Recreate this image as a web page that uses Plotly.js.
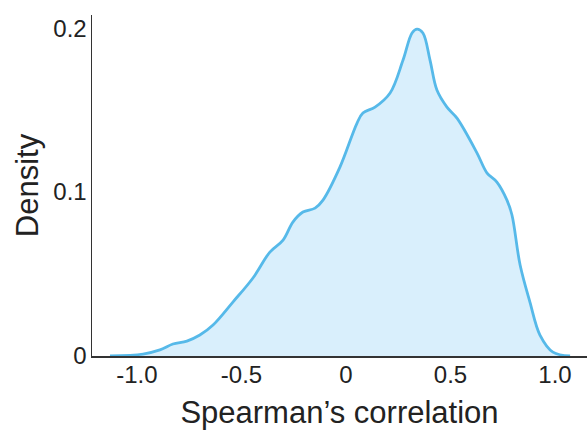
<!DOCTYPE html>
<html>
<head>
<meta charset="utf-8">
<script src="https://cdn.plot.ly/plotly-3.0.1.min.js"></script>
<style>html,body{margin:0;padding:0;background:#fff;}#chart{width:587px;height:430px;}</style>
</head>
<body>
<div id="chart"></div>
<script>
const correlation = [-1.129, -0.971, -0.890, -0.828, -0.761, -0.699, -0.636, -0.541, -0.445, -0.364, -0.301, -0.254, -0.206, -0.148, -0.110, -0.029, 0.053, 0.081, 0.139, 0.211, 0.273, 0.316, 0.340, 0.368, 0.402, 0.435, 0.483, 0.531, 0.627, 0.675, 0.722, 0.770, 0.794, 0.833, 0.880, 0.928, 0.990, 1.072];
const density = [0, 0.0012, 0.0037, 0.0073, 0.0091, 0.0128, 0.0189, 0.0329, 0.0476, 0.0634, 0.0707, 0.0817, 0.0878, 0.0902, 0.0951, 0.1152, 0.1421, 0.1482, 0.1518, 0.1604, 0.1805, 0.1970, 0.1994, 0.1970, 0.1805, 0.1622, 0.1518, 0.1451, 0.1238, 0.1116, 0.1061, 0.0951, 0.0860, 0.0555, 0.0329, 0.0128, 0.0024, 0];
const xTickVals = [-1.0, -0.5, 0, 0.5, 1.0];
const xTickText = ['-1.0', '-0.5', '0', '0.5', '1.0'];
const yTickVals = [0, 0.1, 0.2];
const yTickText = ['0', '0.1', '0.2'];

const trace = {
  x: correlation, y: density, type: 'scatter', mode: 'lines',
  line: {color: '#56b9e9', width: 2.8, shape: 'spline', smoothing: 1},
  fill: 'tozeroy', fillcolor: '#d9effc', hoverinfo: 'skip'
};
const fam = 'Liberation Sans, Arial, sans-serif';
const layout = {
  width: 587, height: 430,
  margin: {l: 92, r: 0, t: 15, b: 74},
  paper_bgcolor: '#fff', plot_bgcolor: '#fff',
  showlegend: false,
  font: {family: fam, color: '#222'},
  xaxis: {
    range: [-1.215, 1.153], tickvals: xTickVals, ticktext: xTickText,
    showgrid: false, zeroline: false, showline: true, linecolor: '#333', linewidth: 1.5,
    ticks: '', ticklen: 0, ticklabelstandoff: -3,
    tickfont: {size: 24, family: fam, color: '#222'},
    title: {text: 'Spearman\u2019s correlation', font: {size: 31, family: fam, color: '#222'}, standoff: 14}
  },
  yaxis: {
    range: [0, 0.208], tickvals: yTickVals, ticktext: yTickText,
    showgrid: false, zeroline: false, showline: true, linecolor: '#333', linewidth: 1.5,
    ticks: '', ticklen: 0, ticklabelstandoff: -1,
    tickfont: {size: 24, family: fam, color: '#222'},
    title: {text: 'Density', font: {size: 31, family: fam, color: '#222'}, standoff: 5}
  }
};
Plotly.newPlot('chart', [trace], layout, {staticPlot: true, displayModeBar: false});
</script>
</body>
</html>
